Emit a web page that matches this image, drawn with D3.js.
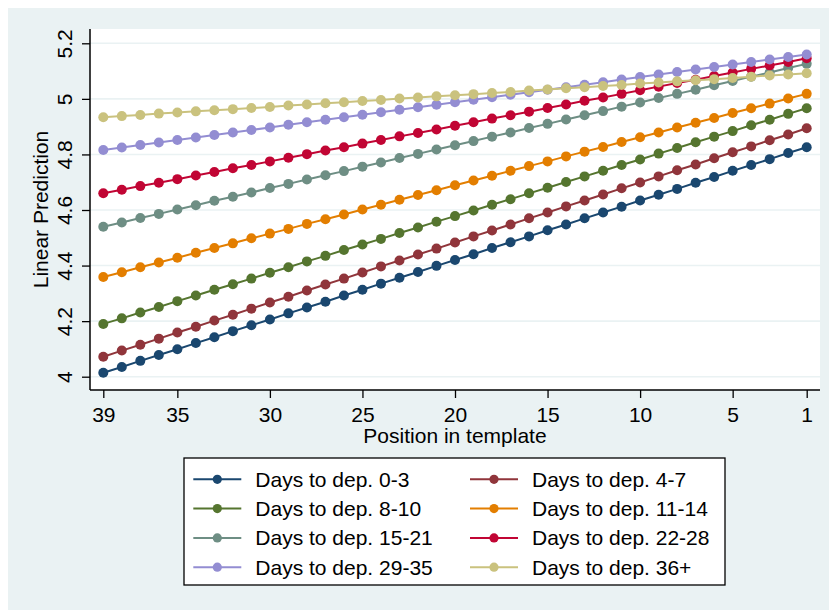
<!DOCTYPE html>
<html>
<head>
<meta charset="utf-8">
<script src="https://cdn.jsdelivr.net/npm/d3@7"></script>
<style>
  html, body { margin: 0; padding: 0; background: #ffffff; }
  svg { display: block; font-family: "Liberation Sans", Arial, sans-serif; }
</style>
</head>
<body>
<svg id="chart" width="829" height="610"></svg>
<script>
// ---- Data ----
const positions = [39,38,37,36,35,34,33,32,31,30,29,28,27,26,25,24,23,22,21,20,19,18,17,16,15,14,13,12,11,10,9,8,7,6,5,4,3,2,1];

const seriesNames = ["Days to dep. 0-3","Days to dep. 4-7","Days to dep. 8-10","Days to dep. 11-14",
                     "Days to dep. 15-21","Days to dep. 22-28","Days to dep. 29-35","Days to dep. 36+"];

const seriesColors = ["#1a476f","#90353b","#55752f","#e37e00","#6e8e84","#c10534","#938dd2","#cac27e"];

const days0_3 = [4.014,4.035,4.057,4.078,4.099,4.121,4.142,4.164,4.185,4.206,4.228,4.249,4.270,4.292,4.313,4.335,4.356,4.377,4.399,4.420,4.441,4.463,4.484,4.505,4.527,4.548,4.570,4.591,4.612,4.634,4.655,4.676,4.698,4.719,4.741,4.762,4.783,4.805,4.826];
const days4_7 = [4.072,4.094,4.115,4.137,4.159,4.180,4.202,4.223,4.245,4.267,4.288,4.310,4.332,4.353,4.375,4.397,4.418,4.440,4.461,4.483,4.505,4.526,4.548,4.570,4.591,4.613,4.634,4.656,4.678,4.699,4.721,4.743,4.764,4.786,4.808,4.829,4.851,4.872,4.894];
const days8_10 = [4.190,4.210,4.231,4.251,4.272,4.292,4.313,4.333,4.353,4.374,4.394,4.415,4.435,4.456,4.476,4.496,4.517,4.537,4.558,4.578,4.598,4.619,4.639,4.660,4.680,4.701,4.721,4.741,4.762,4.782,4.803,4.823,4.844,4.864,4.884,4.905,4.925,4.946,4.966];
const days11_14 = [4.359,4.376,4.394,4.411,4.428,4.446,4.463,4.480,4.498,4.515,4.532,4.550,4.567,4.584,4.602,4.619,4.637,4.654,4.671,4.689,4.706,4.723,4.741,4.758,4.775,4.793,4.810,4.827,4.845,4.862,4.879,4.897,4.914,4.931,4.949,4.966,4.983,5.001,5.018];
const days15_21 = [4.540,4.555,4.571,4.586,4.602,4.617,4.633,4.648,4.663,4.679,4.694,4.710,4.725,4.740,4.756,4.771,4.787,4.802,4.818,4.833,4.848,4.864,4.879,4.895,4.910,4.926,4.941,4.956,4.972,4.987,5.003,5.018,5.033,5.049,5.064,5.080,5.095,5.111,5.126];
const days22_28 = [4.660,4.673,4.686,4.698,4.711,4.724,4.737,4.750,4.762,4.775,4.788,4.801,4.814,4.826,4.839,4.852,4.865,4.877,4.890,4.903,4.916,4.929,4.941,4.954,4.967,4.980,4.993,5.005,5.018,5.031,5.044,5.057,5.069,5.082,5.095,5.108,5.120,5.133,5.146];
const days29_35 = [4.816,4.825,4.834,4.843,4.852,4.861,4.870,4.879,4.888,4.897,4.907,4.916,4.925,4.934,4.943,4.952,4.961,4.970,4.979,4.988,4.997,5.006,5.015,5.024,5.033,5.042,5.051,5.060,5.070,5.079,5.088,5.097,5.106,5.115,5.124,5.133,5.142,5.151,5.160];
const days36plus = [4.934,4.938,4.942,4.947,4.951,4.955,4.959,4.963,4.967,4.971,4.976,4.980,4.984,4.988,4.992,4.996,5.001,5.005,5.009,5.013,5.017,5.021,5.025,5.030,5.034,5.038,5.042,5.046,5.050,5.055,5.059,5.063,5.067,5.071,5.075,5.080,5.084,5.088,5.092];

const seriesValues = [days0_3, days4_7, days8_10, days11_14, days15_21, days22_28, days29_35, days36plus];

const xTicks = [39,35,30,25,20,15,10,5,1];
const yTicks = [4,4.2,4.4,4.6,4.8,5,5.2];
const yTickLabels = ["4","4.2","4.4","4.6","4.8","5","5.2"];
const xTitle = "Position in template";
const yTitle = "Linear Prediction";

// ---- Layout ----
const svg = d3.select("#chart");
const bg = "#eaf2f3";
const plot = {left: 90, right: 820, top: 29, bottom: 390};

svg.append("rect").attr("x", 8).attr("y", 8).attr("width", 821).attr("height", 602).attr("fill", bg);
svg.append("rect").attr("x", plot.left).attr("y", plot.top)
   .attr("width", plot.right - plot.left).attr("height", plot.bottom - plot.top).attr("fill", "#ffffff");

const x = d3.scaleLinear().domain([39, 1]).range([103.3, 806.7]);
const y = d3.scaleLinear().domain([4, 5.2]).range([376.7, 43.3]);

// gridlines
svg.append("g").selectAll("line").data(yTicks).join("line")
  .attr("x1", plot.left).attr("x2", plot.right)
  .attr("y1", d => y(d)).attr("y2", d => y(d))
  .attr("stroke", bg).attr("stroke-width", 1.6);

// series
const line = d3.line().x(d => x(d.p)).y(d => y(d.v));
seriesValues.forEach((vals, si) => {
  const pts = positions.map((p, i) => ({p, v: vals[i]}));
  const g = svg.append("g");
  g.append("path").attr("d", line(pts)).attr("fill", "none")
    .attr("stroke", seriesColors[si]).attr("stroke-width", 2);
  g.selectAll("circle").data(pts).join("circle")
    .attr("cx", d => x(d.p)).attr("cy", d => y(d.v)).attr("r", 5)
    .attr("fill", seriesColors[si]);
});

// axes
const yAxis = d3.axisLeft(y).tickValues(yTicks).tickSize(8).tickPadding(0)
  .tickFormat((d, i) => yTickLabels[i]);
const yg = svg.append("g").attr("transform", `translate(${plot.left},0)`).call(yAxis);
yg.select(".domain").attr("d", `M0,${plot.top}V${plot.bottom}`).attr("stroke", "#000").attr("stroke-width", 1.5);
yg.selectAll(".tick line").attr("stroke", "#000").attr("stroke-width", 1.3);
yg.selectAll(".tick text")
  .attr("x", 0).attr("y", 0).attr("dy", 0)
  .attr("transform", "translate(-18,0) rotate(-90)")
  .attr("text-anchor", "middle")
  .attr("font-size", 21).attr("font-family", "Liberation Sans, Arial, sans-serif").attr("fill", "#000");

const xAxis = d3.axisBottom(x).tickValues(xTicks).tickSize(8).tickPadding(0).tickFormat(d3.format("d"));
const xg = svg.append("g").attr("transform", `translate(0,${plot.bottom})`).call(xAxis);
xg.select(".domain").attr("d", `M${plot.left},0H${plot.right}`).attr("stroke", "#000").attr("stroke-width", 1.5);
xg.selectAll(".tick line").attr("stroke", "#000").attr("stroke-width", 1.3);
xg.selectAll(".tick text").attr("y", 32).attr("dy", 0)
  .attr("font-size", 21).attr("font-family", "Liberation Sans, Arial, sans-serif").attr("fill", "#000");

// axis titles
svg.append("text").attr("x", (plot.left + plot.right) / 2).attr("y", 443)
  .attr("text-anchor", "middle").attr("font-size", 21).attr("fill", "#000").text(xTitle);
svg.append("text").attr("transform", `translate(48,${(plot.top + plot.bottom) / 2}) rotate(-90)`)
  .attr("text-anchor", "middle").attr("font-size", 21).attr("fill", "#000").text(yTitle);

// legend
const leg = svg.append("g");
leg.append("rect").attr("x", 184).attr("y", 458).attr("width", 541).attr("height", 127)
  .attr("fill", "#ffffff").attr("stroke", "#000").attr("stroke-width", 1.3);
const colX = [193.3, 470];
seriesNames.forEach((name, i) => {
  const col = i % 2, row = Math.floor(i / 2);
  const cy = 479.3 + row * 29.3;
  const x0 = colX[col];
  leg.append("line").attr("x1", x0).attr("x2", x0 + 48).attr("y1", cy).attr("y2", cy)
    .attr("stroke", seriesColors[i]).attr("stroke-width", 2);
  leg.append("circle").attr("cx", x0 + 24).attr("cy", cy).attr("r", 4.6).attr("fill", seriesColors[i]);
  leg.append("text").attr("x", x0 + 62).attr("y", cy + 7.5)
    .attr("font-size", 21).attr("fill", "#000").text(name);
});
</script>
</body>
</html>
